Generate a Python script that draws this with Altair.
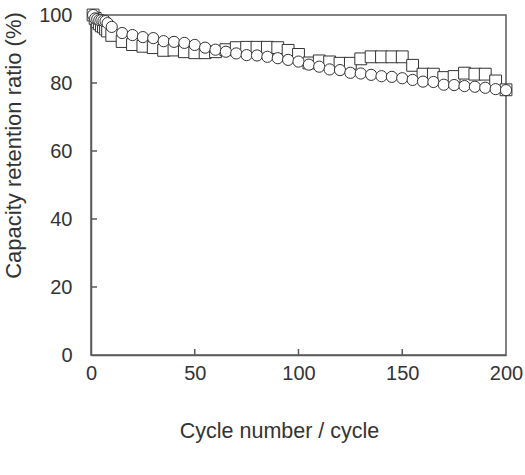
import altair as alt
import pandas as pd

cycles = [1, 2, 3, 4, 5, 6, 7, 8, 10, 15, 20, 25, 30, 35, 40, 45, 50, 55, 60, 65, 70,
          75, 80, 85, 90, 95, 100, 105, 110, 115, 120, 125, 130, 135, 140, 145, 150,
          155, 160, 165, 170, 175, 180, 185, 190, 195, 200]

circle_vals = [100, 99, 98.8, 98.5, 98.5, 98.3, 98.2, 97.6, 96.5, 94.7, 94.1, 93.5, 93.2,
               92.3, 92.1, 91.8, 91.2, 90.4, 89.8, 89.2, 88.7, 88.2, 88.1, 87.7, 87.3,
               86.8, 86.3, 85.4, 84.8, 84.0, 83.8, 83.0, 82.8, 82.4, 82.0, 81.8, 81.4,
               80.9, 80.4, 80.3, 79.5, 79.4, 79.1, 78.9, 78.6, 78.2, 77.9]

square_vals = [100, 99, 98, 97.4, 96.8, 96.5, 95.9, 95.3, 94.0, 92.2, 91.3, 90.8, 90.4,
               89.6, 89.7, 89.2, 88.9, 88.9, 89.2, 89.8, 90.4, 90.5, 90.5, 90.5, 90.4,
               89.6, 88.4, 85.9, 86.5, 86.2, 85.8, 85.8, 87.1, 87.7, 87.7, 87.7, 87.7,
               85.2, 82.6, 82.6, 81.6, 81.9, 82.9, 82.6, 82.6, 80.6, 78.0]

x_ticks = [0, 50, 100, 150, 200]
y_ticks = [0, 20, 40, 60, 80, 100]
x_inner_ticks = [50, 100, 150]
y_inner_ticks = [20, 40, 60, 80]

FONT = "Liberation Sans"
INK = "#333333"
LINE = "#595959"

df_sq = pd.DataFrame({"cycle": cycles, "ratio": square_vals})
df_ci = pd.DataFrame({"cycle": cycles, "ratio": circle_vals})
df_xt = pd.DataFrame({"t": x_inner_ticks})
df_yt = pd.DataFrame({"t": y_inner_ticks})

xscale = alt.Scale(domain=[0, 200], nice=False)
yscale = alt.Scale(domain=[0, 100], nice=False)

x_axis = alt.Axis(values=x_ticks, ticks=False, grid=False, domainColor=LINE, domainWidth=1.5,
                  labelFont=FONT, labelFontSize=20, labelColor=INK, labelPadding=8,
                  labelFlush=False, labelOverlap=False,
                  title="Cycle number / cycle", titleFont=FONT, titleFontSize=21.5,
                  titleFontWeight="normal", titleColor=INK, titleX=188, titleY=76,
                  titleAlign="center", titleBaseline="middle")
y_axis = alt.Axis(values=y_ticks, ticks=False, grid=False, domainColor=LINE, domainWidth=1.5,
                  labelFont=FONT, labelFontSize=20, labelColor=INK, labelPadding=19,
                  labelFlush=False, labelOverlap=False,
                  title="Capacity retention ratio (%)", titleFont=FONT, titleFontSize=22,
                  titleFontWeight="normal", titleColor=INK, titleX=-78, titleY=130,
                  titleAngle=270, titleAlign="center", titleBaseline="middle")

base_sq = alt.Chart(df_sq).mark_point(
    shape="square", size=140, fill="white", fillOpacity=1, stroke=INK, strokeWidth=1, opacity=1
).encode(
    x=alt.X("cycle:Q", scale=xscale, axis=x_axis),
    y=alt.Y("ratio:Q", scale=yscale, axis=y_axis),
)

base_ci = alt.Chart(df_ci).mark_point(
    shape="circle", size=125, fill="white", fillOpacity=1, stroke=INK, strokeWidth=1, opacity=1
).encode(
    x=alt.X("cycle:Q", scale=xscale),
    y=alt.Y("ratio:Q", scale=yscale),
)

xt = alt.Chart(df_xt).mark_rule(color=LINE, strokeWidth=1.5).encode(
    x=alt.X("t:Q", scale=xscale), y=alt.value(340), y2=alt.value(334)
)
yt = alt.Chart(df_yt).mark_rule(color=LINE, strokeWidth=1.5).encode(
    y=alt.Y("t:Q", scale=yscale), x=alt.value(0), x2=alt.value(6)
)

chart = alt.layer(xt, yt, base_sq, base_ci).properties(
    width=415, height=340,
    autosize=alt.AutoSizeParams(type="none"),
    padding={"left": 91, "top": 15, "right": 19, "bottom": 120},
    background="white",
).configure_view(stroke=LINE, strokeWidth=1.5)

chart.save("out.html", embed_options={"renderer": "svg", "actions": False})
